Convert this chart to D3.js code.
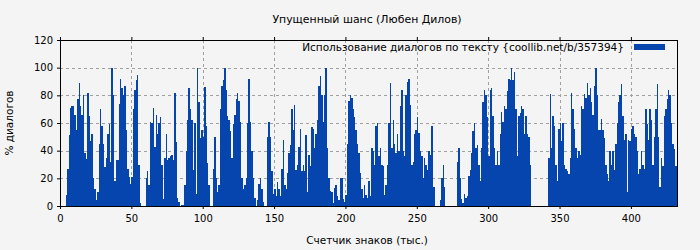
<!DOCTYPE html>
<html><head><meta charset="utf-8">
<script src="https://cdn.jsdelivr.net/npm/d3@7"></script>
<style>
html,body{margin:0;padding:0;background:#f4f4f4;}
svg{display:block;font-family:"DejaVu Sans",sans-serif;}
</style></head>
<body><svg id="c" width="700" height="250"></svg>
<script>
const title = "Упущенный шанс (Любен Дилов)";
const xLabel = "Счетчик знаков (тыс.)";
const yLabel = "% диалогов";
const seriesName = "Использование диалогов по тексту {coollib.net/b/357394}";
const xTicks = [0,50,100,150,200,250,300,350,400];
const yTicks = [0,20,40,60,80,100,120];
const values = [
0,0,0,0,8,27,51,71,72,72,
66,55,77,89,72,66,80,38,34,82,
65,47,52,20,12,4,10,45,70,58,
45,28,35,52,59,32,100,80,18,33,
33,74,92,85,80,87,55,27,21,16,
21,70,84,91,95,30,2,0,0,0,
20,25,15,61,60,71,43,66,52,60,
64,30,5,35,52,33,35,36,37,33,
82,46,6,3,0,1,1,15,40,62,
85,70,62,26,60,9,100,75,49,55,
50,86,58,31,15,0,0,27,50,20,
10,15,70,87,91,100,84,65,62,54,
35,59,66,77,82,76,61,20,12,15,
20,60,92,61,40,20,6,0,4,16,
20,12,3,0,0,50,61,50,25,9,
12,7,17,12,7,27,48,15,12,24,
38,44,70,55,73,26,30,43,56,25,
30,25,51,10,37,29,57,56,42,52,
62,87,94,80,61,80,100,42,20,11,
10,2,13,15,7,4,20,20,5,3,
8,45,76,80,78,70,64,55,45,38,
24,12,6,15,8,6,18,7,42,40,
30,58,60,36,42,30,29,8,15,30,
60,89,42,62,45,38,52,40,72,84,
40,36,80,90,92,73,30,32,52,55,
64,53,40,36,20,35,30,26,40,37,
58,14,14,0,0,0,4,20,30,14,
0,0,0,0,0,0,0,0,32,42,
20,5,2,9,6,7,22,26,38,54,
60,42,44,30,18,42,75,84,80,64,
36,84,85,65,42,30,40,30,52,68,
61,72,70,83,92,91,100,91,97,70,
36,65,67,72,70,52,65,52,50,30,
0,0,0,0,0,0,0,0,0,0,
0,0,35,81,42,65,58,30,18,56,
60,47,60,30,27,25,23,35,82,70,
56,42,35,40,37,72,70,81,78,89,
80,85,75,66,87,100,80,55,55,63,
55,49,30,23,18,40,30,40,26,45,
60,75,80,88,65,48,52,10,48,47,
56,58,52,50,40,23,27,40,30,27,
70,59,48,70,62,30,50,70,88,50,
14,35,29,65,70,77,84,80,60,45,
41,29,4
];

const W = 700, H = 250;
const m = {left:60, right:22, top:40, bottom:44};
const svg = d3.select("#c");
svg.append("rect").attr("width",W).attr("height",H).attr("fill","#f4f4f4");

const x = d3.scaleLinear().domain([0, values.length]).range([m.left, W - m.right]);
const y = d3.scaleLinear().domain([0, 120]).range([H - m.bottom, m.top]);

// grid
const g = svg.append("g");
g.selectAll("line.gy").data(yTicks.filter(d => d > 0 && d < 120)).join("line")
  .attr("x1", m.left).attr("x2", W - m.right)
  .attr("y1", d => Math.round(y(d)) + 0.5).attr("y2", d => Math.round(y(d)) + 0.5)
  .attr("stroke", "#a0a0a0").attr("stroke-dasharray", "3,3");
g.selectAll("line.gx").data(xTicks.filter(d => d > 0)).join("line")
  .attr("y1", m.top).attr("y2", H - m.bottom)
  .attr("x1", d => Math.round(x(d)) + 0.5).attr("x2", d => Math.round(x(d)) + 0.5)
  .attr("stroke", "#a0a0a0").attr("stroke-dasharray", "3,3");

// bars
svg.append("g").attr("shape-rendering","crispEdges")
  .selectAll("rect").data(values).join("rect")
  .attr("x", (d,i) => Math.round(x(i)))
  .attr("width", (d,i) => Math.round(x(i+1)) - Math.round(x(i)))
  .attr("y", d => y(d))
  .attr("height", d => y(0) - y(d))
  .attr("fill", "#0645ad");

// axes
const xAxis = d3.axisBottom(x).tickValues(xTicks).tickSize(3).tickSizeOuter(0).tickPadding(6);
const yAxis = d3.axisLeft(y).tickValues(yTicks).tickSize(3).tickSizeOuter(0).tickPadding(4);
const gx = svg.append("g").attr("transform", `translate(0,${H - m.bottom})`).call(xAxis);
const gy = svg.append("g").attr("transform", `translate(${m.left},0)`).call(yAxis);
[gx, gy].forEach(a => {
  a.select(".domain").remove();
  a.selectAll("text").attr("font-size", 10).attr("font-family", "DejaVu Sans").attr("fill", "#000");
  a.selectAll("line").attr("stroke", "#000");
});
// top mirrored ticks
svg.append("g").attr("transform", `translate(0,${m.top})`)
  .call(d3.axisTop(x).tickValues(xTicks).tickSize(3).tickSizeOuter(0).tickFormat(""))
  .call(a => a.select(".domain").remove());

// frame
svg.append("rect").attr("x", m.left + 0.5).attr("y", m.top + 0.5)
  .attr("width", W - m.left - m.right - 1).attr("height", H - m.top - m.bottom)
  .attr("fill", "none").attr("stroke", "#000").attr("stroke-width", 1);

// title and labels
svg.append("text").attr("x", 367).attr("y", 23).attr("text-anchor", "middle")
  .attr("font-size", 10.9).text(title);
svg.append("text").attr("x", 367).attr("y", 244).attr("text-anchor", "middle")
  .attr("font-size", 10.5).text(xLabel);
svg.append("text").attr("transform", "translate(13,123) rotate(-90)").attr("text-anchor", "middle")
  .attr("font-size", 10.5).text(yLabel);

// legend
svg.append("text").attr("x", 624).attr("y", 51).attr("text-anchor", "end")
  .attr("font-size", 10.5).text(seriesName);
svg.append("rect").attr("x", 634).attr("y", 44).attr("width", 31).attr("height", 6).attr("fill", "#0645ad");
</script></body></html>
